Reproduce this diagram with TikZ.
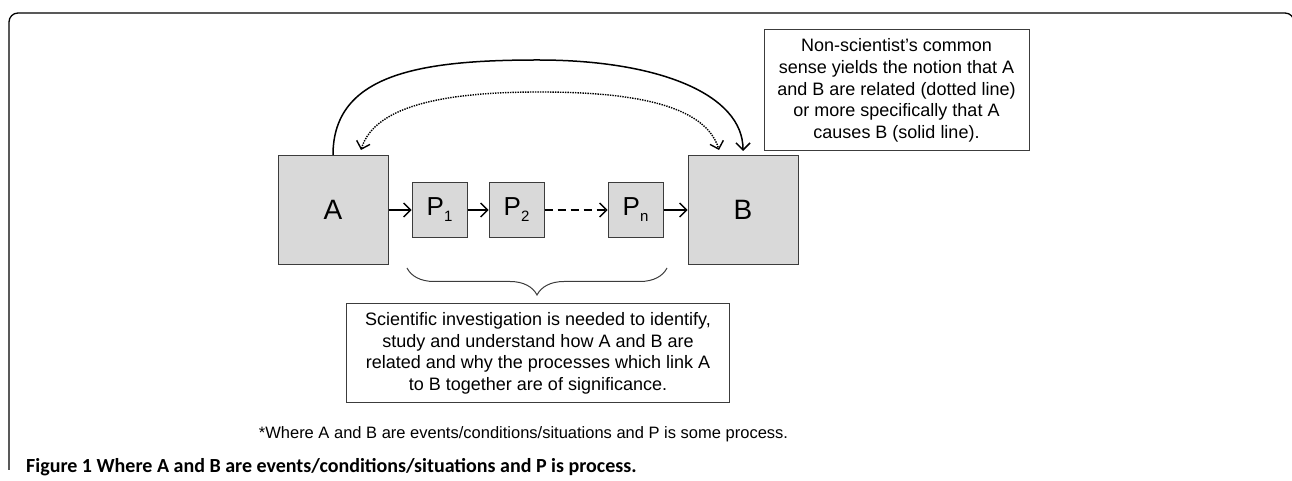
\documentclass[tikz,border=0pt]{standalone}
\usepackage{fontspec}
\setmainfont{Liberation Sans}
\newfontfamily\capfont{Carlito}
\usetikzlibrary{arrows.meta,decorations.pathreplacing}
\definecolor{boxfill}{HTML}{D9D9D9}
\definecolor{boxline}{HTML}{3C3C3C}
\newcommand{\psub}[1]{\raisebox{-6pt}{\fontsize{15}{15}\selectfont #1}}
\begin{document}
\begin{tikzpicture}[x=1pt,y=1pt,
    bigbox/.style={draw=boxline,fill=boxfill,line width=1pt,inner sep=0pt,
      minimum width=110pt,minimum height=109pt,font=\fontsize{28}{32}\selectfont},
    procbox/.style={draw=boxline,fill=boxfill,line width=1pt,inner sep=0pt,
      minimum size=55pt,font=\fontsize{26}{28}\selectfont},
    notebox/.style={draw=boxline,line width=1pt,inner sep=0pt,align=center,
      font=\fontsize{18}{21.6}\selectfont},
    flow/.style={-{Straight Barb[length=7pt,width=14pt]},line width=1.3pt},
    link/.style={{Straight Barb[length=7pt,width=14pt]}-{Straight Barb[length=7pt,width=14pt]},
      line width=1.4pt,dash pattern=on 1.4pt off 1.1pt},
  ]
  \useasboundingbox (0,0) rectangle (1292,481);
  % frame
  \draw [line width=1.3pt,rounded corners=9pt] (9,11) -- (9,468) -- (1294,468) -- (1294,420);
  % events and processes
  \node[bigbox] (A) at (333,271) {A};
  \node[bigbox] (B) at (743,271) {B};
  \node[procbox] (P1) at (439.5,271) {P\psub{1}};
  \node[procbox] (P2) at (516.5,271) {P\psub{2}};
  \node[procbox] (Pn) at (635.5,271) {P\psub{n}};
  \draw [flow] (A) -- (P1);
  \draw [flow] (P1) -- (P2);
  \draw [flow,dash pattern=on 8pt off 5pt] (P2) -- (Pn);
  \draw [flow] (Pn) -- (B);
  % common sense links
  \coordinate (top) at (538,421);
  \coordinate (dtop) at (540,389);
  \draw [flow,line width=1.5pt,shorten >=4pt] (A.north) .. controls +(0,81) and +(-118,0) .. (top)
    .. controls +(122,0) and +(0,60) .. (B.north);
  \draw [link] ([xshift=28pt,yshift=5pt]A.north) .. controls +(14,46) and +(-90,0) .. (dtop)
    .. controls +(90,0) and +(-14,46) .. ([xshift=-24pt,yshift=5pt]B.north);
  % notes
  \node[notebox,minimum width=265pt,minimum height=121pt] (sense) at (896.5,390.5)
    {Non-scientist’s common\\sense yields the notion that A\\and B are related (dotted line)\\or more specifically that A\\causes B (solid line).};
  \node[notebox,minimum width=383pt,minimum height=99pt] (science) at (538,127.5)
    {Scientific investigation is needed to identify,\\study and understand how A and B are\\related and why the processes which link A\\to B together are of significance.};
  \coordinate (bl) at (407,213);
  \coordinate (br) at (667,213);
  \draw [draw=boxline,line width=1pt,decorate,decoration={brace,mirror,amplitude=27pt}] (bl) -- (br);
  \node[font=\fontsize{16.5}{20}\selectfont] (foot) at (523.5,47)
    {*Where A and B are events/conditions/situations and P is some process.};
  \node[anchor=base west,inner sep=0pt,font=\capfont\bfseries\fontsize{20}{24}\selectfont] (cap) at (26,8)
    {Figure 1 Where A and B are events/conditions/situations and P is process.};
\end{tikzpicture}
\end{document}
